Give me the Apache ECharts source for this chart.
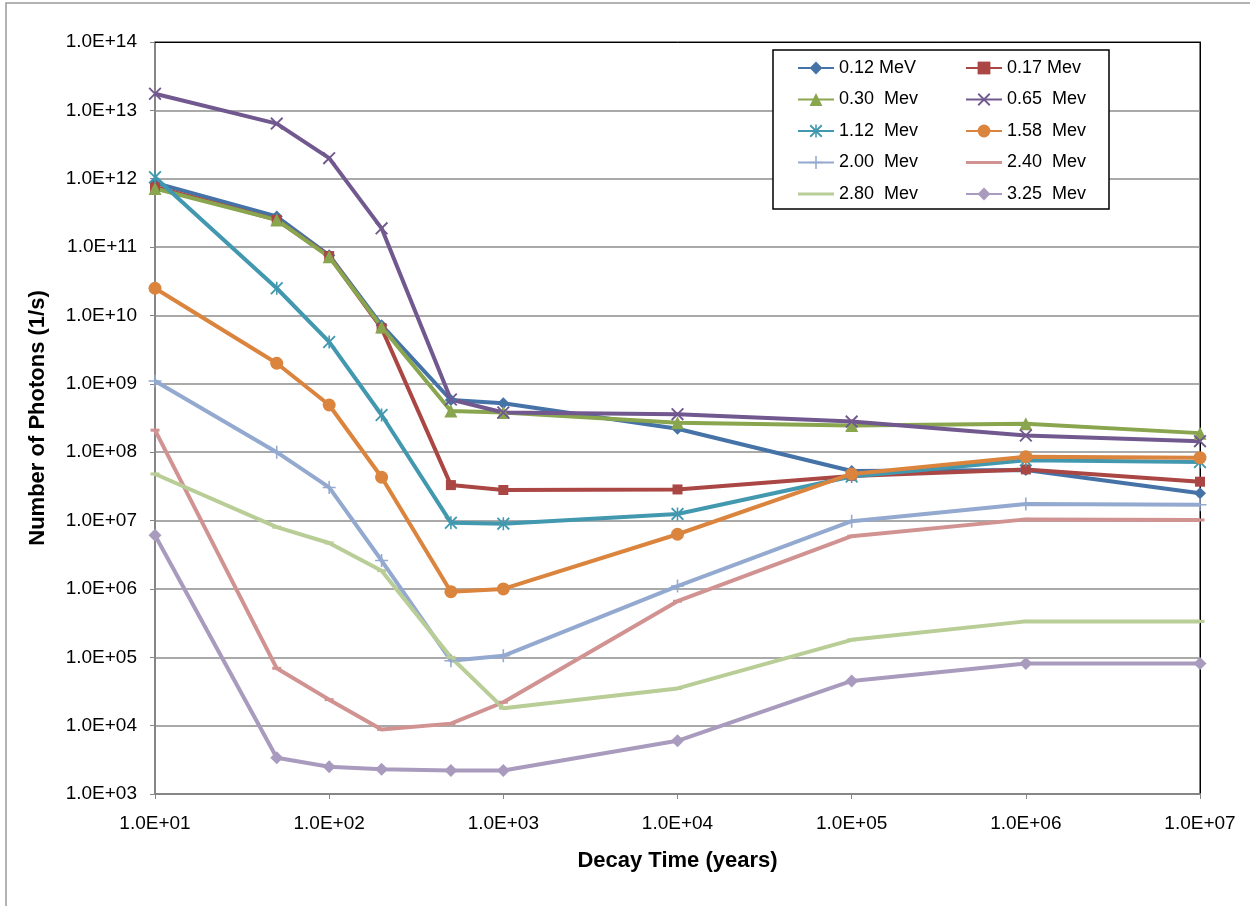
<!DOCTYPE html>
<html>
<head>
<meta charset="utf-8">
<title>Decay photons</title>
<script src="https://cdn.jsdelivr.net/npm/echarts@6/dist/echarts.min.js"></script>
<style>
  html, body { margin: 0; padding: 0; background: #fff; }
  #chart { width: 1250px; height: 906px; }
</style>
</head>
<body>
<div id="chart"></div>
<script>
// decay time (years)
var years = [10, 50, 100, 200, 500, 1000, 1e4, 1e5, 1e6, 1e7];

// photons per second, one list per energy group
var e012 = [8.7e11, 2.8e11, 7.6e10, 7.2e9, 5.8e8, 5.2e8, 2.2e8, 5.3e7, 5.5e7, 2.5e7];
var e017 = [7.6e11, 2.5e11, 7.4e10, 6.5e9, 3.3e7, 2.8e7, 2.85e7, 4.5e7, 5.6e7, 3.7e7];
var e030 = [7.2e11, 2.5e11, 7.2e10, 6.8e9, 4.0e8, 3.8e8, 2.7e8, 2.45e8, 2.6e8, 1.9e8];
var e065 = [1.75e13, 6.4e12, 2.0e12, 1.88e11, 5.9e8, 3.8e8, 3.6e8, 2.8e8, 1.75e8, 1.45e8];
var e112 = [1.05e12, 2.5e10, 4.1e9, 3.5e8, 9.3e6, 9.0e6, 1.25e7, 4.4e7, 7.6e7, 7.2e7];
var e158 = [2.5e10, 2.0e9, 4.9e8, 4.3e7, 9.1e5, 1.0e6, 6.3e6, 4.8e7, 8.6e7, 8.3e7];
var e200 = [1.1e9, 1.0e8, 3.05e7, 2.6e6, 8.9e4, 1.05e5, 1.1e6, 9.8e6, 1.75e7, 1.7e7];
var e240 = [2.1e8, 6.9e4, 2.4e4, 8.8e3, 1.07e4, 2.2e4, 6.6e5, 5.9e6, 1.04e7, 1.02e7];
var e280 = [4.8e7, 8.0e6, 4.7e6, 1.85e6, 1.0e5, 1.8e4, 3.5e4, 1.8e5, 3.35e5, 3.35e5];
var e325 = [6.1e6, 3.4e3, 2.5e3, 2.3e3, 2.2e3, 2.2e3, 6.0e3, 4.5e4, 8.1e4, 8.1e4];

var names = ['0.12 MeV', '0.17 Mev', '0.30  Mev', '0.65  Mev', '1.12  Mev',
             '1.58  Mev', '2.00  Mev', '2.40  Mev', '2.80  Mev', '3.25  Mev'];
var values = [e012, e017, e030, e065, e112, e158, e200, e240, e280, e325];

var colors = ['#4573A7', '#AA4643', '#89A54E', '#71588F', '#4198AF',
              '#DB843D', '#93A9CF', '#D19392', '#B9CD96', '#A99BBD'];

var crossPath = 'path://M0,1L1,0L10,9L9,10Z M9,0L10,1L1,10L0,9Z';
var starPath = 'path://M0,1L1,0L10,9L9,10Z M9,0L10,1L1,10L0,9Z M4.4,0L5.6,0L5.6,10L4.4,10Z';
var plusPath = 'path://M4.4,0L5.6,0L5.6,10L4.4,10Z M0,4.4L10,4.4L10,5.6L0,5.6Z';
// plain line for legend entries whose marker is only a dash
var dashIcon = 'path://M0,0L0.01,0L0,0.01Z M0,6.4L36,6.4L36,9.6L0,9.6Z M36,16L35.99,16L36,15.99Z';

var symbols = ['diamond', 'rect', 'triangle', crossPath, starPath,
               'circle', plusPath, 'rect', 'rect', 'diamond'];
var symbolSizes = [12, 10, 13, 13, 13, 13, 13, [9, 3], [9, 3], 13];

var font = 'Liberation Sans, Arial, sans-serif';

function sci(v) {
    var e = Math.round(Math.log(v) / Math.LN10);
    return '1.0E+' + (e < 10 ? '0' : '') + e;
}

var series = [];
for (var i = 0; i < names.length; i++) {
    var pts = [];
    for (var j = 0; j < years.length; j++) {
        pts.push([years[j], values[i][j]]);
    }
    series.push({
        name: names[i],
        type: 'line',
        data: pts,
        symbol: symbols[i],
        symbolSize: symbolSizes[i],
        showAllSymbol: true,
        lineStyle: { color: colors[i], width: 4 },
        itemStyle: { color: colors[i] },
        emphasis: { disabled: true },
        animation: false
    });
}

function legendItems(idx) {
    return idx.map(function (k) {
        return symbols[k] === 'rect' && k > 6 ? { name: names[k], icon: dashIcon } : names[k];
    });
}

var legendText = { fontFamily: font, fontSize: 18, color: '#000' };

var chart = echarts.init(document.getElementById('chart'));
chart.setOption({
    animation: false,
    color: colors,
    grid: {
        left: 155, right: 50, top: 42, bottom: 112,
        show: true, borderColor: '#000', borderWidth: 1, backgroundColor: '#fff'
    },
    graphic: [{
        type: 'rect',
        shape: { x: 6, y: 3, width: 1300, height: 950 },
        style: { fill: 'none', stroke: '#9a9a9a', lineWidth: 1.5 },
        z: -10, silent: true
    }, {
        type: 'rect',
        shape: { x: 773, y: 50, width: 336, height: 159 },
        style: { fill: '#fff', stroke: '#000', lineWidth: 1.5 },
        z: 50, silent: true
    }],
    legend: [{
        orient: 'vertical', left: 797, top: 59, padding: 0,
        itemWidth: 36, itemHeight: 16, itemGap: 13.5,
        data: legendItems([0, 2, 4, 6, 8]),
        textStyle: legendText,
        selectedMode: false, z: 60
    }, {
        orient: 'vertical', left: 965, top: 59, padding: 0,
        itemWidth: 36, itemHeight: 16, itemGap: 13.5,
        data: legendItems([1, 3, 5, 7, 9]),
        textStyle: legendText,
        selectedMode: false, z: 60
    }],
    xAxis: [{
        type: 'log', logBase: 10, min: 10, max: 1e7, splitNumber: 6,
        name: 'Decay Time (years)', nameLocation: 'middle', nameGap: 56,
        nameTextStyle: { fontFamily: font, fontSize: 22, fontWeight: 'bold', color: '#000' },
        axisLine: { lineStyle: { color: '#868686', width: 2 } },
        axisTick: { show: true, length: 5, lineStyle: { color: '#868686', width: 1 } },
        axisLabel: { fontFamily: font, fontSize: 19, color: '#000', margin: 20, formatter: sci },
        splitLine: { show: false },
        minorTick: { show: false }
    }, {
        type: 'log', logBase: 10, min: 10, max: 1e7, position: 'top',
        axisLine: { show: true, lineStyle: { color: '#000', width: 1 } },
        axisTick: { show: false }, axisLabel: { show: false }, splitLine: { show: false }
    }],
    yAxis: [{
        type: 'log', logBase: 10, min: 1e3, max: 1e14, interval: 1,
        name: 'Number of Photons (1/s)', nameLocation: 'middle', nameGap: 106,
        nameTextStyle: { fontFamily: font, fontSize: 22, fontWeight: 'bold', color: '#000' },
        axisLine: { show: true, lineStyle: { color: '#868686', width: 2 } },
        axisTick: { show: true, length: 5, lineStyle: { color: '#868686', width: 1 } },
        axisLabel: { fontFamily: font, fontSize: 19, color: '#000', margin: 18, formatter: sci },
        splitLine: { show: true, lineStyle: { color: '#8c8c8c', width: 1.5 } }
    }, {
        type: 'log', logBase: 10, min: 1e3, max: 1e14, position: 'right',
        axisLine: { show: true, lineStyle: { color: '#000', width: 1 } },
        axisTick: { show: false }, axisLabel: { show: false }, splitLine: { show: false }
    }],
    series: series
});

window.onresize = function () {
    chart.resize();
};
</script>
</body>
</html>
